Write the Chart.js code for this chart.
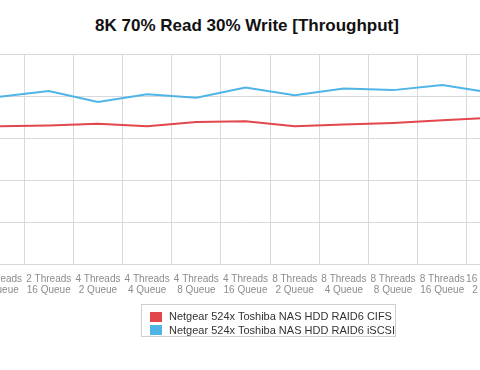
<!DOCTYPE html>
<html>
<head>
<meta charset="utf-8">
<script src="https://cdn.jsdelivr.net/npm/chart.js@4"></script>
<style>
    body { margin: 0; background: #fff; }
    #wrap { position: relative; width: 480px; height: 370px; overflow: hidden; font-family: "Liberation Sans", Arial, sans-serif; }
    #title { position: absolute; top: 16px; left: 0; width: 494px; text-align: center; font-weight: bold; font-size: 17px; color: #111; }
    #myChart { position: absolute; left: -65px; top: 0; }
    #legend { position: absolute; left: 141px; top: 304px; width: 253px; height: 31px; border: 1px solid #cfcfcf; padding: 0; }
    #legend div { position: relative; height: 13.5px; line-height: 13.5px; font-size: 11px; color: #333; padding-left: 27px; white-space: nowrap; }
    #legend div:first-child { margin-top: 5px; }
    #legend span { position: absolute; left: 8px; top: 1.5px; width: 12px; height: 10px; }
</style>
</head>
<body>
<div id="wrap">
    <div id="title">8K 70% Read 30% Write [Throughput]</div>
    <canvas id="myChart" width="621" height="370"></canvas>
    <div id="legend"></div>
</div>
<script>
// categorie visibili (le prime e l'ultima sono tagliate ai bordi)
const categorie = [
    ["2 Threads", "8 Queue"], ["2 Threads", "16 Queue"],
    ["4 Threads", "2 Queue"], ["4 Threads", "4 Queue"], ["4 Threads", "8 Queue"], ["4 Threads", "16 Queue"],
    ["8 Threads", "2 Queue"], ["8 Threads", "4 Queue"], ["8 Threads", "8 Queue"], ["8 Threads", "16 Queue"],
    ["16 Threads", "2 Queue"]
];
const cifs = [164, 165, 167, 164, 169, 170, 164, 166, 168, 171, 174];
const iscsi = [199, 206, 193, 202, 198, 210, 201, 209, 207, 213, 204];
const nomi = ["Netgear 524x Toshiba NAS HDD RAID6 CIFS", "Netgear 524x Toshiba NAS HDD RAID6 iSCSI"];
const colori = ["#e2474c", "#4fb4e6"];

const ctx = document.getElementById('myChart').getContext('2d');
const data = {
    labels: categorie,
    datasets: [
        { label: nomi[0], data: cifs, borderColor: colori[0], backgroundColor: colori[0] },
        { label: nomi[1], data: iscsi, borderColor: colori[1], backgroundColor: colori[1] }
    ]
};
const myChart = new Chart(ctx, {
    type: 'line',
    data: data,
    options: {
        responsive: false,
        animation: false,
        devicePixelRatio: 1,
        layout: { padding: { left: 40, right: 40, top: 54, bottom: 65 } },
        elements: {
            line: { borderWidth: 2, tension: 0, fill: false },
            point: { radius: 0 }
        },
        plugins: {
            legend: { display: false },
            title: { display: false },
            tooltip: { enabled: false }
        },
        scales: {
            x: {
                offset: true,
                grid: { offset: true, color: '#d9d9d9', drawTicks: false },
                border: { color: '#d9d9d9' },
                ticks: {
                    autoSkip: false, maxRotation: 0, padding: 9,
                    color: '#8c8c8c',
                    font: { family: '"Liberation Sans", Arial, sans-serif', size: 10, lineHeight: 1.15 }
                }
            },
            y: {
                min: 0, max: 250,
                grid: { color: '#d9d9d9', drawTicks: false },
                border: { display: false },
                ticks: { display: false, stepSize: 50 }
            }
        }
    }
});

// legenda html
myChart.data.datasets.forEach(ds => {
    $row = document.createElement('div');
    $row.innerHTML = "<span style='background:" + ds.borderColor + "'></span>" + ds.label;
    document.getElementById('legend').appendChild($row);
});
</script>
</body>
</html>
